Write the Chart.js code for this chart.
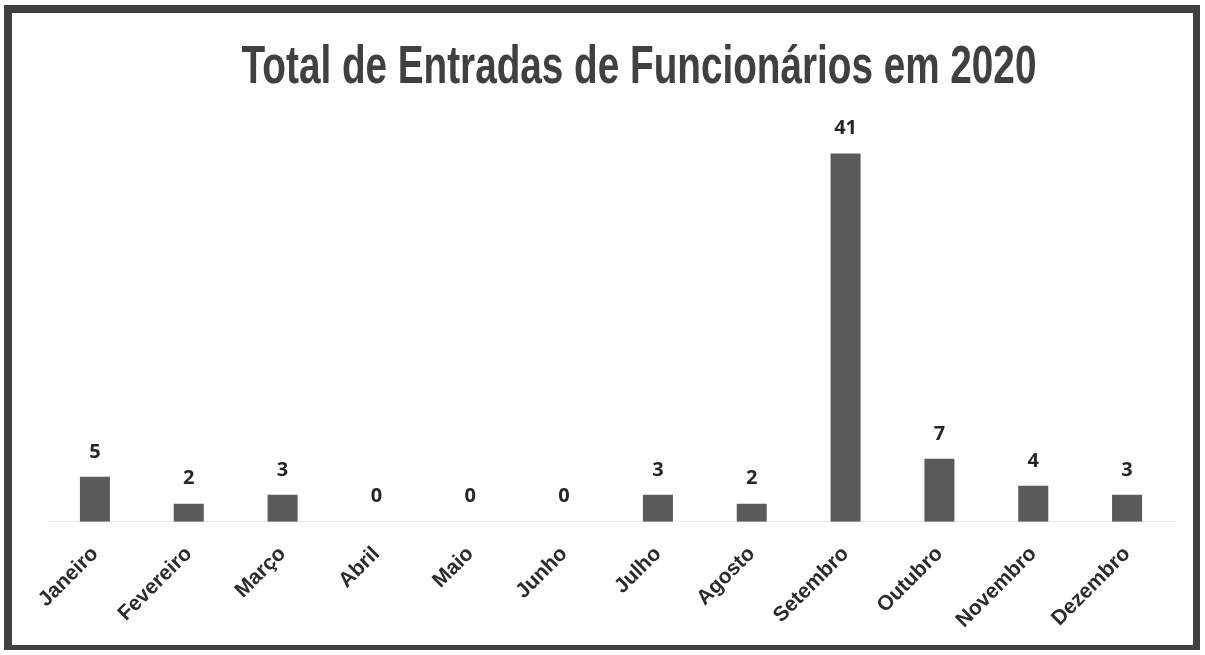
<!DOCTYPE html>
<html>
<head>
<meta charset="utf-8">
<script src="https://cdn.jsdelivr.net/npm/chart.js@4/dist/chart.umd.min.js"></script>
<style>
    html, body { margin: 0; padding: 0; background: #ffffff; }
    #frame {
        position: absolute;
        left: 4px; top: 5px;
        width: 1196px; height: 645px;
        box-sizing: border-box;
        border: 8px solid #404040;
        border-right-width: 7px;
        border-bottom-width: 5px;
        background: #ffffff;
    }
    #chart { display: block; }
</style>
</head>
<body>
<div id="frame"><canvas id="chart" width="1181" height="632"></canvas></div>
<script>
// Chart data
const months = ['Janeiro', 'Fevereiro', 'Março', 'Abril', 'Maio', 'Junho',
                'Julho', 'Agosto', 'Setembro', 'Outubro', 'Novembro', 'Dezembro'];
const entradas = [5, 2, 3, 0, 0, 0, 3, 2, 41, 7, 4, 3];
const chartTitle = 'Total de Entradas de Funcionários em 2020';

/**
 * Condensed bold title (no narrow font installed, so squeeze it horizontally)
 */
const narrowTitle = {
    id: 'narrowTitle',
    afterDraw(chart) {
        const ctx = chart.ctx;
        ctx.save();
        ctx.translate(627, 70);
        ctx.scale(0.73, 1);
        ctx.font = 'bold 53px "Liberation Sans", Arial, sans-serif';
        ctx.fillStyle = '#404040';
        ctx.textAlign = 'center';
        ctx.textBaseline = 'alphabetic';
        ctx.fillText(chartTitle, 0, 0);
        ctx.restore();
    }
};

/**
 * Draws the value above each bar
 */
const valueLabels = {
    id: 'valueLabels',
    afterDatasetsDraw(chart) {
        const ctx = chart.ctx;
        const meta = chart.getDatasetMeta(0);
        ctx.save();
        ctx.font = 'bold 20px "Open Sans", sans-serif';
        ctx.fillStyle = '#262626';
        ctx.textAlign = 'center';
        ctx.textBaseline = 'middle';
        meta.data.forEach((bar, i) => {
            ctx.fillText(String(entradas[i]), bar.x, bar.y - 25);
        });
        ctx.restore();
    }
};

const chart = new Chart(document.getElementById('chart'), {
    type: 'bar',
    data: {
        labels: months,
        datasets: [{
            label: 'Entradas',
            data: entradas,
            backgroundColor: '#5a5a5a',
            borderWidth: 0,
            barPercentage: 0.4,
            categoryPercentage: 0.8
        }]
    },
    options: {
        responsive: false,
        animation: false,
        layout: {
            padding: { left: 36, right: 19, top: 118, bottom: 0 }
        },
        scales: {
            x: {
                grid: { display: false },
                border: { display: true, color: '#e8e8e8', width: 1 },
                ticks: {
                    color: '#2b2b2b',
                    font: { family: '"Liberation Sans", Arial, sans-serif', size: 21, weight: 'bold' },
                    minRotation: 45,
                    maxRotation: 45,
                    autoSkip: false,
                    padding: 12
                }
            },
            y: {
                display: false,
                min: 0,
                max: 43.5
            }
        },
        plugins: {
            legend: { display: false },
            tooltip: { enabled: false },
            title: { display: false }
        }
    },
    plugins: [valueLabels, narrowTitle]
});
</script>
</body>
</html>
